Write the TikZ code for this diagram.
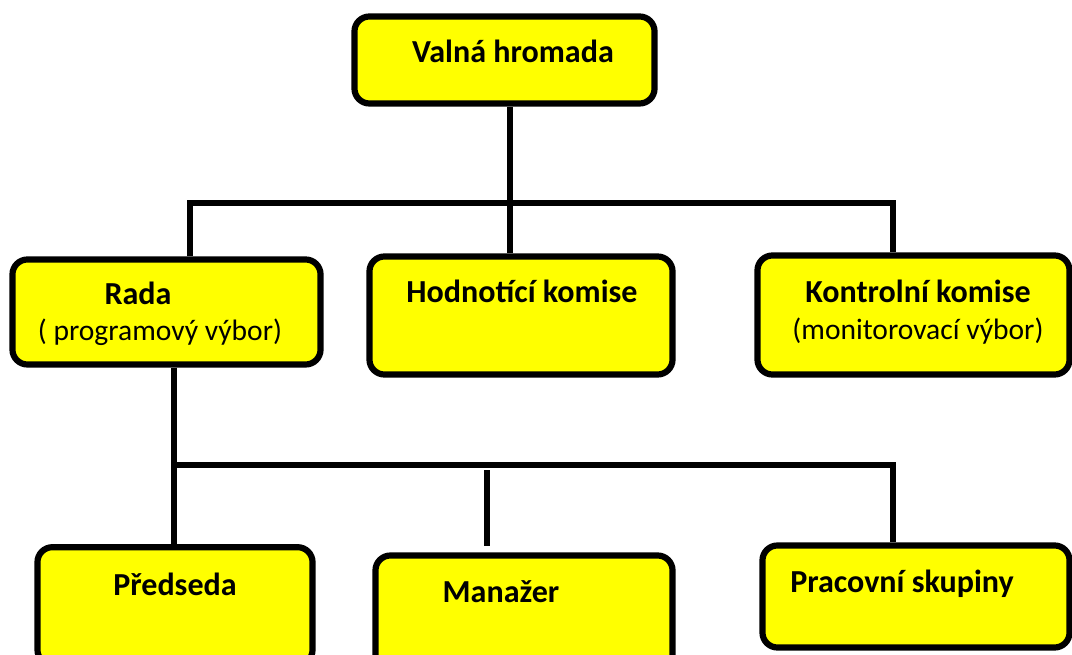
\documentclass[tikz,border=0pt]{standalone}
\usepackage{fontspec}
\setmainfont{Carlito}
\usetikzlibrary{positioning}
\definecolor{boxyellow}{RGB}{255,255,0}

\begin{document}
\begin{tikzpicture}[
  x=0.025cm, y=-0.025cm,
  line width=4.2pt,
  box/.style={rectangle, rounded corners=0.375cm, draw=black, fill=boxyellow,
              line width=4.4pt, inner sep=0pt},
  title/.style={anchor=base, font=\fontsize{22.8}{27}\selectfont\bfseries},
  sub/.style={anchor=base, font=\fontsize{21}{25}\selectfont}
]
\clip (0,0) rectangle (1072,655);

% --- Boxes ---
\node[box, minimum width=7.5cm,   minimum height=2.175cm] (VALNA) at (504.5,60)   {};
\node[box, minimum width=7.7cm,   minimum height=2.625cm] (RADA)  at (166.5,312)  {};
\node[box, minimum width=7.575cm, minimum height=2.95cm]  (HODN)  at (521,315.5)  {};
\node[box, minimum width=7.8cm,   minimum height=2.975cm] (KONTR) at (913.5,315)  {};
\node[box, minimum width=6.875cm, minimum height=2.94cm]  (PRED)  at (175,606)    {};
\node[box, minimum width=7.425cm, minimum height=2.9cm]   (MAN)   at (524,613.5)  {};
\node[box, minimum width=7.675cm, minimum height=2.55cm]  (PRAC)  at (916,596.5)  {};

% --- Texts ---
\node[title] (VALNAt)  at (513,63)  {Valná hromada};
\node[title] (RADAt)   at (138,305) {Rada};
\node[sub]   (RADAs)   at (160,341) {( programový výbor)};
\node[title] (HODNt)   at (522,303) {Hodnotící komise};
\node[title] (KONTRt)  at (918,303) {Kontrolní komise};
\node[sub]   (KONTRs)  at (918,340) {(monitorovací výbor)};
\node[title] (PREDt)   at (175,595) {Předseda};
\node[title] (MANt)    at (501,602) {Manažer};
\node[title] (PRACt)   at (902,592) {Pracovní skupiny};

% --- Lines ---
\coordinate (BUS1L) at (190,203);
\coordinate (BUS1R) at (893,203);
\coordinate (BUS1M) at (510,203);
\coordinate (BUS2L) at (174,465);
\coordinate (BUS2R) at (893,465);
\coordinate (MGR)   at (487,470);

\draw (RADA.north -| BUS1L) -- (BUS1L) -- (BUS1R) -- (KONTR.north -| BUS1R);
\draw (VALNA.south -| BUS1M) -- (HODN.north -| BUS1M);

\draw (RADA.south -| BUS2L) -- (BUS2L) -- (BUS2R) -- (PRAC.north -| BUS2R);
\draw (BUS2L) -- (PRED.north -| BUS2L);
\draw[shorten >=0.15cm] (MGR) -- (MAN.north -| MGR);

\end{tikzpicture}
\end{document}
